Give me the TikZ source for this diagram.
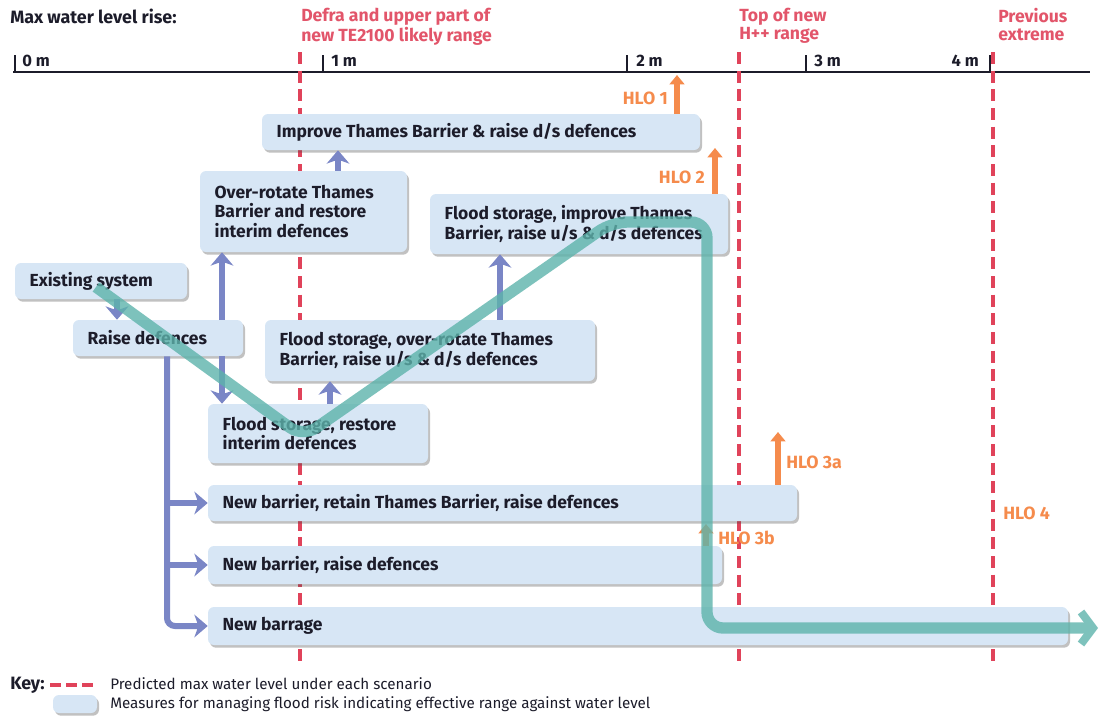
\documentclass[tikz,border=0pt]{standalone}
\usepackage{fontspec}
\setmainfont{Fira Sans}
\usetikzlibrary{arrows.meta,shadows,fit}
\definecolor{boxfill}{HTML}{D7E6F5}
\definecolor{txt}{HTML}{1C1C2A}
\definecolor{redline}{HTML}{E0435A}
\definecolor{redlab}{HTML}{E2556A}
\definecolor{purp}{HTML}{7A86C6}
\definecolor{teal}{HTML}{5DB3AB}
\definecolor{orng}{HTML}{F58B4C}
\newcommand\mfont{\bfseries\fontsize{13.1}{14.6}\selectfont}
\newcommand\mbx[6]{%
  \node[mbox, fit={(#2,#3)(#4,#5)}] (#1) {};
  \node[mtext, anchor=west] (#1t) at ([xshift=11pt]#1.west) {#6};}
\begin{document}
\begin{tikzpicture}[x=0.75pt,y=-0.75pt,
  mbox/.style={fill=boxfill, rounded corners=4.5pt, inner sep=0pt,
    drop shadow={shadow xshift=1.5pt, shadow yshift=-2pt, opacity=0.35, fill=black!70}},
  mtext/.style={font=\mfont, text=txt, align=left, inner sep=0pt},
  redlabel/.style={font=\bfseries\fontsize{13.2}{13.2}\selectfont, text=redlab, align=left, inner sep=0pt, anchor=north west},
  axlab/.style={font=\bfseries\fontsize{12.4}{13}\selectfont, text=txt, inner sep=0pt},
  hlo/.style={font=\bfseries\fontsize{13.3}{14}\selectfont, text=orng, inner sep=0pt},
  level/.style={draw=redline, line width=3pt, dash pattern=on 9pt off 5pt},
  parr/.style={draw=purp, line width=4.5pt, -{Stealth[length=10pt,width=17pt,inset=3pt]}},
  oarr/.style={draw=orng, line width=4.5pt, -{Triangle[length=7pt,width=11pt]}},
  keytext/.style={font=\fontsize{11.4}{12}\selectfont, text=txt, inner sep=0pt, anchor=west}]
\useasboundingbox (0,0) rectangle (1101,718);

% header
\node[font=\bfseries\fontsize{13.4}{14}\selectfont, text=txt, inner sep=0pt, anchor=west] (title) at (10,16) {Max water level rise:};
\node[redlabel] (l1) at (301,8) {Defra and upper part of\\new TE2100 likely range};
\node[redlabel] (l2) at (739,8) {Top of new\\H++ range};
\node[redlabel] (l3) at (998,8) {Previous\\extreme};

% axis
\coordinate (ax0) at (13,72);
\coordinate (ax1) at (1090,72);
\draw[line width=1.6pt, txt] (ax0) -- (ax1);
\foreach \x/\n in {15/t0,323/t1,627/t2,806/t3,990/t4}{
  \coordinate (\n) at (\x,55);
  \draw[line width=1.6pt, txt] (\n) -- (\n |- ax0);
}
\node[axlab, anchor=west] (m0) at (22,61) {0 m};
\node[axlab, anchor=west] (m1) at (331,61) {1 m};
\node[axlab, anchor=west] (m2) at (636,61) {2 m};
\node[axlab, anchor=west] (m3) at (814,61) {3 m};
\node[axlab, anchor=east] (m4) at (979,61) {4 m};

% level lines
\foreach \x/\n in {300/v1,739/v2,993/v3}{
  \coordinate (\n a) at (\x,52);
  \coordinate (\n b) at (\x,666);
  \draw[level] (\n a) -- (\n b);
}

% boxes
\mbx{imp}{262}{114}{700}{150}{Improve Thames Barrier \& raise d/s defences}
\mbx{ovr}{200}{171}{407}{252}{Over-rotate Thames\\Barrier and restore\\interim defences}
\mbx{fsi}{430}{194}{728}{254}{Flood storage, improve Thames\\Barrier, raise u/s \& d/s defences}
\mbx{ex}{15}{263}{187}{299}{Existing system}
\mbx{rd}{73}{320}{243}{356}{Raise defences}
\mbx{fso}{265}{320}{595}{381}{Flood storage, over-rotate Thames\\Barrier, raise u/s \& d/s defences}
\mbx{fsr}{208}{404}{428}{463}{Flood storage, restore\\interim defences}
\mbx{nba}{208}{485}{797}{521}{New barrier, retain Thames Barrier, raise defences}
\mbx{nbb}{208}{546}{722}{584}{New barrier, raise defences}
\mbx{nbg}{208}{607}{1068}{645}{New barrage}

% purple connectors
\coordinate (pa) at (117,0);
\coordinate (pb) at (222,0);
\coordinate (pc) at (338,0);
\coordinate (pd) at (330,0);
\coordinate (pe) at (500,0);
\coordinate (pf) at (167,0);
\draw[parr] (ex.south -| pa) -- (rd.north -| pa);
\draw[parr] (rd.north -| pb) -- (ovr.south -| pb);
\draw[parr] (rd.south -| pb) -- (fsr.north -| pb);
\draw[parr] (ovr.north -| pc) -- (imp.south -| pc);
\draw[parr] (fsr.north -| pd) -- (fso.south -| pd);
\draw[parr] (fso.north -| pe) -- (fsi.south -| pe);
\draw[parr, rounded corners=6pt] (rd.south -| pf) -- (nbg.west -| pf) -- (nbg.west);
\draw[parr] (nba.west -| pf) -- (nba.west);
\draw[parr] (nbb.west -| pf) -- (nbb.west);

% orange HLO arrows
\coordinate (h1) at (677,75);
\coordinate (h2) at (715,148);
\coordinate (h3) at (778,432);
\coordinate (h4) at (706,524);
\draw[oarr] (imp.north -| h1) -- (h1);
\draw[oarr] (fsi.north -| h2) -- (h2);
\draw[oarr] (nba.north -| h3) -- (h3);
\draw[oarr] (nbb.north -| h4) -- (h4);
\node[hlo, anchor=east] (hl1) at (668,98) {HLO 1};
\node[hlo, anchor=east] (hl2) at (705,177) {HLO 2};
\node[hlo, anchor=west] (hl3) at (786,462) {HLO 3a};
\node[hlo, anchor=west] (hl4) at (718,538) {HLO 3b};
\node[hlo, anchor=west] (hl5) at (1003,513) {HLO 4};

% teal pathway
\coordinate (tp1) at (96,287);
\coordinate (tp2) at (303,437);
\coordinate (tp3) at (612,222);
\coordinate (tp4) at (707,222);
\coordinate (tp5) at (707,628);
\coordinate (tp6) at (1098,628);
\begin{scope}[transparency group, opacity=0.8]
\draw[teal, line width=8.5pt, rounded corners=12pt, -{Straight Barb[length=9pt,width=24pt,line width=6pt]}]
  (tp1) -- (tp2) -- (tp3) -- (tp4) -- (tp5) -- (tp6);
\end{scope}

% key
\node[font=\bfseries\fontsize{13.4}{14}\selectfont, text=txt, inner sep=0pt, anchor=west] (key) at (10,685) {Key:};
\coordinate (k1) at (50,685);
\coordinate (k2) at (96,685);
\draw[redline, line width=3pt, dash pattern=on 8pt off 4pt] (k1) -- (k2);
\node[keytext] (kt1) at (110,684) {Predicted max water level under each scenario};
\node[mbox, fit={(53,695)(97,713)}] (kb) {};
\node[keytext] (kt2) at (110,704) {Measures for managing flood risk indicating effective range against water level};
\end{tikzpicture}
\end{document}
